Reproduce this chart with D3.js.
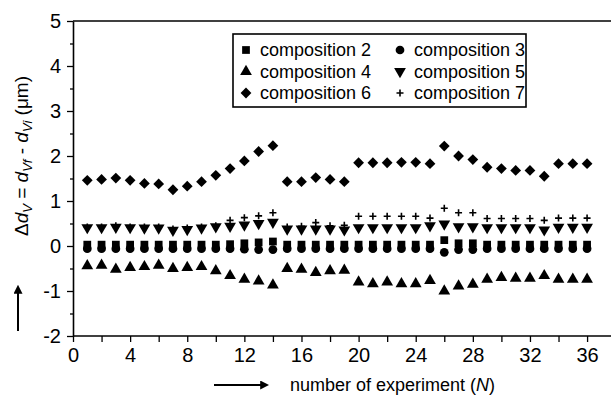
<!DOCTYPE html>
<html>
<head>
<meta charset="utf-8">
<script src="https://cdn.jsdelivr.net/npm/d3@7"></script>
<style>
  body { margin: 0; background: #fff; }
  text { font-family: Arial, "Liberation Sans", sans-serif; fill: #000; }
</style>
</head>
<body>
<div id="chart"></div>
<script>
// experiment numbers 1..36
var experiments = [1,2,3,4,5,6,7,8,9,10,11,12,13,14,15,16,17,18,19,20,21,22,23,24,25,26,27,28,29,30,31,32,33,34,35,36];

var comp2 = [0.03,0.03,0.03,0.03,0.03,0.03,0.03,0.03,0.03,0.03,0.04,0.06,0.08,0.10,0.03,0.03,0.03,0.03,0.03,0.03,0.03,0.03,0.03,0.03,0.03,0.13,0.06,0.06,0.03,0.03,0.03,0.03,0.03,0.03,0.03,0.03];
var comp3 = [-0.06,-0.06,-0.06,-0.06,-0.06,-0.06,-0.06,-0.06,-0.06,-0.06,-0.06,-0.07,-0.08,-0.08,-0.06,-0.06,-0.06,-0.06,-0.06,-0.06,-0.06,-0.06,-0.06,-0.06,-0.06,-0.14,-0.08,-0.08,-0.06,-0.06,-0.06,-0.06,-0.06,-0.06,-0.06,-0.06];
var comp4 = [-0.44,-0.43,-0.52,-0.48,-0.46,-0.43,-0.50,-0.48,-0.46,-0.55,-0.66,-0.74,-0.78,-0.87,-0.50,-0.52,-0.59,-0.55,-0.54,-0.80,-0.84,-0.80,-0.84,-0.84,-0.77,-1.00,-0.89,-0.85,-0.74,-0.70,-0.72,-0.72,-0.66,-0.74,-0.74,-0.74];
var comp5 = [0.41,0.41,0.42,0.41,0.40,0.40,0.35,0.37,0.40,0.43,0.44,0.47,0.50,0.53,0.38,0.38,0.38,0.38,0.36,0.41,0.41,0.41,0.41,0.41,0.45,0.49,0.43,0.43,0.41,0.41,0.41,0.41,0.36,0.42,0.42,0.42];
var comp6 = [1.46,1.48,1.51,1.46,1.39,1.38,1.25,1.33,1.43,1.57,1.72,1.89,2.10,2.23,1.43,1.43,1.52,1.48,1.43,1.85,1.85,1.85,1.86,1.86,1.83,2.22,2.00,1.92,1.75,1.72,1.68,1.68,1.55,1.83,1.83,1.83];
var comp7 = [0.42,0.42,0.45,0.42,0.42,0.42,0.38,0.40,0.42,0.45,0.57,0.63,0.67,0.74,0.42,0.44,0.52,0.45,0.46,0.66,0.66,0.66,0.66,0.66,0.62,0.84,0.74,0.74,0.61,0.61,0.61,0.61,0.57,0.62,0.62,0.62];

var seriesNames = ["composition 2","composition 3","composition 4","composition 5","composition 6","composition 7"];
var xTickLabels = [0,4,8,12,16,20,24,28,32,36];
var yTickLabels = [-2,-1,0,1,2,3,4,5];

var width = 611, height = 403;
var margin = { top: 21, left: 73 };
var plotBottom = 336;

var svg = d3.select("#chart").append("svg")
  .attr("width", width)
  .attr("height", height);

var x = d3.scaleLinear().domain([0, 38]).range([margin.left, margin.left + 38 * 14.28]);
var y = d3.scaleLinear().domain([-2, 5]).range([plotBottom, margin.top]);

// top border
svg.append("line")
  .attr("x1", x(0)).attr("x2", width + 5)
  .attr("y1", y(5)).attr("y2", y(5))
  .attr("stroke", "#000").attr("stroke-width", 1.6);

// x axis
var xAxis = svg.append("g")
  .attr("transform", "translate(0," + plotBottom + ")")
  .call(d3.axisBottom(x).tickValues(d3.range(0, 40, 2)).tickSize(6).tickPadding(6)
    .tickFormat(function (d) { return xTickLabels.indexOf(d) >= 0 ? d : ""; }));
xAxis.select(".domain").attr("stroke-width", 1.6).attr("d", "M" + x(0) + ",0H" + (width + 5));
xAxis.selectAll(".tick line").attr("stroke-width", 1.3);
xAxis.selectAll("text").style("font-size", "20px");

// y axis
var yAxis = svg.append("g")
  .attr("transform", "translate(" + margin.left + ",0)")
  .call(d3.axisLeft(y).tickValues(yTickLabels).tickSize(6).tickPadding(6).tickSizeOuter(0)
    .tickFormat(function (d) { return String(d); }));
yAxis.select(".domain").attr("stroke-width", 1.6);
yAxis.selectAll(".tick line").attr("stroke-width", 1.3);
yAxis.selectAll("text").style("font-size", "20px");

svg.append("g")
  .attr("transform", "translate(" + margin.left + ",0)")
  .call(d3.axisLeft(y).tickValues(d3.range(-1.5, 5, 1)).tickSize(3).tickFormat(""))
  .call(function (g) { g.select(".domain").remove(); })
  .selectAll(".tick line").attr("stroke-width", 1.3);

// marker shapes
var sq = d3.symbol().type(d3.symbolSquare).size(60)();
var circ = d3.symbol().type(d3.symbolCircle).size(60)();
var tri = d3.symbol().type(d3.symbolTriangle).size(60)();
var diam = d3.symbol().type(d3.symbolSquare).size(58)();
var plus = "M-3.5,0H3.5M0,-3.5V3.5";

var markers = [
  { values: comp2, path: sq, rot: 0 },
  { values: comp3, path: circ, rot: 0 },
  { values: comp4, path: tri, rot: 0 },
  { values: comp5, path: tri, rot: 180 },
  { values: comp6, path: diam, rot: 45 },
  { values: comp7, path: plus, rot: 0, stroke: true }
];

function drawMarker(sel, m) {
  sel.attr("d", m.path)
    .attr("fill", m.stroke ? "none" : "#000")
    .attr("stroke", m.stroke ? "#000" : "none")
    .attr("stroke-width", m.stroke ? 1.6 : 0);
}

// draw order: plus first so triangles sit on top like the reference
var order = [5, 1, 0, 2, 3, 4];
order.forEach(function (k) {
  var m = markers[k];
  svg.append("g").selectAll("path")
    .data(experiments)
    .enter().append("path")
    .attr("transform", function (d, i) {
      return "translate(" + x(d) + "," + y(m.values[i]) + ") rotate(" + m.rot + ")";
    })
    .call(drawMarker, m);
});

// legend
var legend = svg.append("g");
legend.append("rect")
  .attr("x", 233).attr("y", 34).attr("width", 293).attr("height", 73)
  .attr("fill", "#fff").attr("stroke", "#000").attr("stroke-width", 1.6);

seriesNames.forEach(function (name, i) {
  var col = i % 2, row = Math.floor(i / 2);
  var mx = col === 0 ? 246 : 400;
  var my = 50 + row * 21.5;
  var m = markers[i];
  legend.append("path")
    .attr("transform", "translate(" + mx + "," + my + ") rotate(" + m.rot + ")")
    .call(drawMarker, m);
  legend.append("text")
    .attr("x", mx + 14).attr("y", my)
    .attr("dy", "0.36em")
    .style("font-size", "18px")
    .text(name);
});

// y axis label
var yl = svg.append("text")
  .attr("transform", "translate(28,156) rotate(-90)")
  .attr("text-anchor", "middle")
  .style("font-size", "19px");
yl.append("tspan").text("\u0394");
yl.append("tspan").style("font-style", "italic").text("d");
yl.append("tspan").style("font-style", "italic").style("font-size", "13px").attr("dy", 4).text("V");
yl.append("tspan").attr("dy", -4).text(" = ");
yl.append("tspan").style("font-style", "italic").text("d");
yl.append("tspan").style("font-style", "italic").style("font-size", "13px").attr("dy", 4).text("Vf");
yl.append("tspan").attr("dy", -4).text(" - ");
yl.append("tspan").style("font-style", "italic").text("d");
yl.append("tspan").style("font-style", "italic").style("font-size", "13px").attr("dy", 4).text("Vi");
yl.append("tspan").attr("dy", -4).text(" (\u03bcm)");

// arrows
svg.append("defs").append("marker")
  .attr("id", "head")
  .attr("viewBox", "0 0 10 10")
  .attr("refX", 2).attr("refY", 5)
  .attr("markerWidth", 4.5).attr("markerHeight", 4.5)
  .attr("orient", "auto")
  .append("path").attr("d", "M0,0L10,5L0,10Z").attr("fill", "#000");

svg.append("line")
  .attr("x1", 18).attr("y1", 331).attr("x2", 18).attr("y2", 292)
  .attr("stroke", "#000").attr("stroke-width", 2)
  .attr("marker-end", "url(#head)");

svg.append("line")
  .attr("x1", 214).attr("y1", 385).attr("x2", 262).attr("y2", 385)
  .attr("stroke", "#000").attr("stroke-width", 2)
  .attr("marker-end", "url(#head)");

var xl = svg.append("text")
  .attr("x", 290).attr("y", 391)
  .style("font-size", "18px");
xl.append("tspan").text("number of experiment (");
xl.append("tspan").style("font-style", "italic").text("N");
xl.append("tspan").text(")");
</script>
</body>
</html>
